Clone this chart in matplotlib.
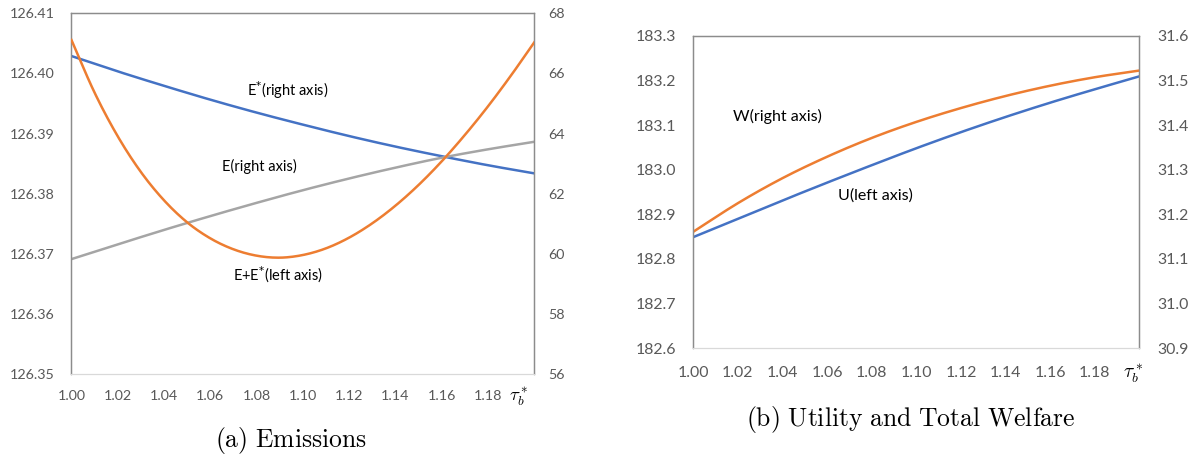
import matplotlib
matplotlib.use("Agg")
import matplotlib.pyplot as plt
import numpy as np

# ---- panel (a): emissions ----
tau_fine = [1.00, 1.01, 1.02, 1.03, 1.04, 1.05, 1.06, 1.07, 1.08, 1.09, 1.10,
            1.11, 1.12, 1.13, 1.14, 1.15, 1.16, 1.17, 1.18, 1.19, 1.20]
e_total = [126.40557, 126.39681, 126.38956, 126.38363, 126.37892, 126.37526,
           126.37260, 126.37078, 126.36972, 126.36939, 126.36983, 126.37094,
           126.37272, 126.37510, 126.37803, 126.38147, 126.38540, 126.38978,
           126.39454, 126.39970, 126.40518]

tau = [1.00, 1.02, 1.04, 1.06, 1.08, 1.10, 1.12, 1.14, 1.16, 1.18, 1.20]
e_star = [66.58, 66.07, 65.59, 65.13, 64.70, 64.30, 63.92, 63.57, 63.25, 62.95, 62.68]
e_home = [59.83, 60.32, 60.80, 61.26, 61.70, 62.12, 62.51, 62.87, 63.20, 63.48, 63.73]

# ---- panel (b): utility and welfare ----
utility = [182.849, 182.890, 182.931, 182.971, 183.010, 183.048, 183.084,
           183.118, 183.150, 183.180, 183.209]
welfare = [31.161, 31.225, 31.281, 31.329, 31.371, 31.407, 31.438,
           31.465, 31.488, 31.507, 31.522]

xticks = [1.00, 1.02, 1.04, 1.06, 1.08, 1.10, 1.12, 1.14, 1.16, 1.18]

BLUE = "#4472C4"
ORANGE = "#ED7D31"
GRAY = "#A5A5A5"
TICK = "#595959"
FONT = "Lato"


def smooth(x, y, n=16):
    # spreadsheet-style smoothed line: Catmull-Rom segments between the points
    x = np.asarray(x, float)
    y = np.asarray(y, float)
    px = np.concatenate([[2 * x[0] - x[1]], x, [2 * x[-1] - x[-2]]])
    py = np.concatenate([[2 * y[0] - y[1]], y, [2 * y[-1] - y[-2]]])
    t = np.linspace(0, 1, n, endpoint=False)
    xs, ys = [], []
    for i in range(1, len(px) - 2):
        for p, out in ((px, xs), (py, ys)):
            p0, p1, p2, p3 = p[i - 1], p[i], p[i + 1], p[i + 2]
            out.append(0.5 * (2 * p1 + (p2 - p0) * t
                              + (2 * p0 - 5 * p1 + 4 * p2 - p3) * t ** 2
                              + (3 * p1 - p0 - 3 * p2 + p3) * t ** 3))
    return np.append(np.concatenate(xs), x[-1]), np.append(np.concatenate(ys), y[-1])


fig = plt.figure(figsize=(11.99, 4.58), dpi=100)


def style(ax, ax2, size, xpad, ypad):
    for a in (ax, ax2):
        for s in ("left", "right", "top"):
            a.spines[s].set_color("#8c8c8c")
            a.spines[s].set_linewidth(0.9)
        a.spines["bottom"].set_color("#d9d9d9")
        a.tick_params(length=0, colors=TICK, labelsize=size)
        for lab in a.get_yticklabels() + a.get_xticklabels():
            lab.set_fontfamily(FONT)
    ax.tick_params(axis="x", pad=xpad)
    ax.tick_params(axis="y", pad=ypad[0])
    ax2.tick_params(axis="y", pad=ypad[1])
    ax.set_xlim(1.0, 1.2)
    ax.set_xticks(xticks)
    ax.set_xticklabels(["%.2f" % t for t in xticks], fontfamily=FONT)


# panel (a)
ax1 = fig.add_axes([0.0596, 0.1827, 0.3860, 0.7882])
ax1r = ax1.twinx()
ax1.plot(*smooth(tau_fine, e_total), color=ORANGE, lw=1.8, zorder=3)
ax1r.plot(*smooth(tau, e_star), color=BLUE, lw=1.8)
ax1r.plot(*smooth(tau, e_home), color=GRAY, lw=1.8)
ax1.set_ylim(126.35, 126.41)
yl1 = np.arange(126.35, 126.4101, 0.01)
ax1.set_yticks(yl1)
ax1.set_yticklabels(["%.2f" % v for v in yl1])
ax1r.set_ylim(56, 68)
ax1r.set_yticks(range(56, 69, 2))
ax1.set_zorder(ax1r.get_zorder() + 1)
ax1.patch.set_visible(False)
style(ax1, ax1r, 10.3, 11, (12, 10))

lab_kw = dict(fontfamily=FONT, fontsize=10.5, ha="center", va="center", color="black")
ax1.text(1.0936, 126.3973, "E$^{*}$(right axis)", **lab_kw)
ax1.text(1.0810, 126.3845, "E(right axis)", **lab_kw)
ax1.text(1.0892, 126.3665, "E+E$^{*}$(left axis)", **lab_kw)
ax1.text(0.966, -0.062, r"$\tau_b^*$", transform=ax1.transAxes, fontsize=13.5,
         math_fontfamily="cm", ha="center", va="center", color="black")

# panel (b)
ax2 = fig.add_axes([0.5782, 0.2395, 0.3720, 0.6825])
ax2r = ax2.twinx()
ax2.plot(*smooth(tau, utility), color=BLUE, lw=1.8)
ax2r.plot(*smooth(tau, welfare), color=ORANGE, lw=1.8)
ax2.set_ylim(182.6, 183.3)
yl = np.arange(182.6, 183.301, 0.1)
ax2.set_yticks(yl)
ax2.set_yticklabels(["%.1f" % v for v in yl])
ax2r.set_ylim(30.9, 31.6)
yr = np.arange(30.9, 31.601, 0.1)
ax2r.set_yticks(yr)
ax2r.set_yticklabels(["%.1f" % v for v in yr])
style(ax2, ax2r, 11.4, 13, (12.5, 13))

lab_kw2 = dict(lab_kw, fontsize=11.5)
ax2.text(1.0378, 183.120, "W(right axis)", **lab_kw2)
ax2.text(1.0815, 182.943, "U(left axis)", **lab_kw2)
ax2.text(0.985, -0.085, r"$\tau_b^*$", transform=ax2.transAxes, fontsize=14,
         math_fontfamily="cm", ha="center", va="center", color="black")

# subfigure captions
fig.text(0.2427, 0.0393, r"$\mathrm{(a)\ Emissions}$", math_fontfamily="cm",
         fontsize=18.5, ha="center", va="center")
fig.text(0.7598, 0.0830, r"$\mathrm{(b)\ Utility\ and\ Total\ Welfare}$",
         math_fontfamily="cm", fontsize=18.5, ha="center", va="center")

fig.savefig("out.png", dpi=100)
